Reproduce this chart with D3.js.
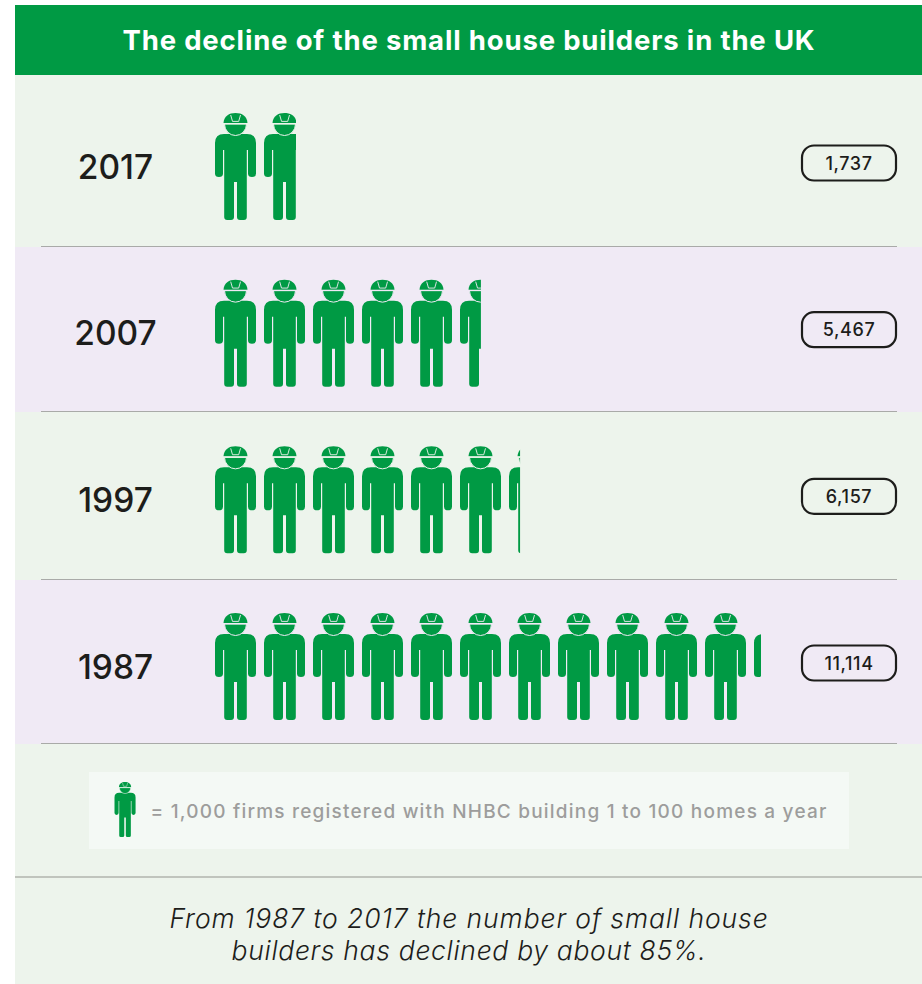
<!DOCTYPE html>
<html>
<head>
<meta charset="utf-8">
<script src="https://cdn.jsdelivr.net/npm/d3@7"></script>
<style>
  html, body { margin: 0; padding: 0; background: #fff; }
  svg { display: block; }
  text { font-family: Inter, "Open Sans", sans-serif; }
</style>
</head>
<body>
<svg id="chart"></svg>
<script>
const years = ["2017", "2007", "1997", "1987"];
const firms = [1737, 5467, 6157, 11114];
// how many figures are actually showing per row
const figuresShown = [1.78, 5.51, 6.27, 11.17];

const title = "The decline of the small house builders in the UK";
const legendText = "= 1,000 firms registered with NHBC building 1 to 100 homes a year";
const footer = ["From 1987 to 2017 the number of small house", "builders has declined by about 85%."];

const green = "#009a44";
const rowColors = ["#edf4ec", "#f0eaf5", "#edf4ec", "#f0eaf5"];
const rowEdges = [75, 247, 412, 580, 744];
const figW = 41, figH = 107;

const width = 922, height = 984;
const svg = d3.select("#chart").attr("width", width).attr("height", height);

const x = d3.scaleLinear().domain([0, 1]).range([215, 264]);
const y = d3.scaleLinear().domain([0, years.length - 1]).range([113, 613]);
const partial = d3.scaleLinear().domain([0, 1]).range([0, figW]);

const body = "M9 21 H32 Q41 21 41 30 V60.5 Q41 64 37 64 Q33 64 33 60.5 V37 H31.8 V104 Q31.8 107 28.8 107 H25 Q22 107 22 104 V69 H19 V104 Q19 107 16 107 H12.2 Q9.2 107 9.2 104 V37 H8 V60.5 Q8 64 4 64 Q0 64 0 60.5 V30 Q0 21 9 21 Z";

// one hard hat worker, in a local 41x107 box
const figure = (g, bg) => {
  g.append("path").attr("d", body).attr("fill", green);
  // head, the light stroke cuts it out of the shoulders
  g.append("path")
    .attr("d", "M9.5 11 A11 11.5 0 0 0 31.5 11 Z")
    .attr("fill", green).attr("stroke", bg).attr("stroke-width", 1);
  // helmet
  g.append("path")
    .attr("d", "M8.5 10 C9 3 14 0 20.5 0 C27 0 32 3 32.5 10 Z")
    .attr("fill", green);
  g.append("path")
    .attr("d", "M8 10.8 H33")
    .attr("stroke", bg).attr("stroke-width", 1);
  g.append("path")
    .attr("d", "M15.7 2 L17.5 8.4 H23.7 L25.5 2")
    .attr("fill", "none").attr("stroke", bg).attr("stroke-width", 0.9);
};

// panel
svg.selectAll("rect.row")
  .data(years)
  .enter()
  .append("rect")
  .attr("class", "row")
  .attr("x", 15)
  .attr("y", (d, i) => rowEdges[i])
  .attr("width", width - 15)
  .attr("height", (d, i) => rowEdges[i + 1] - rowEdges[i])
  .attr("fill", (d, i) => rowColors[i]);

svg.append("rect").attr("x", 15).attr("y", 744).attr("width", width - 15).attr("height", 240).attr("fill", "#edf4ec");
svg.append("rect").attr("x", 15).attr("y", 5).attr("width", width - 15).attr("height", 70).attr("fill", green);

svg.append("text")
  .attr("x", 469).attr("y", 50)
  .attr("text-anchor", "middle")
  .attr("fill", "#fff")
  .attr("font-size", 27.5)
  .attr("font-weight", 700)
  .attr("letter-spacing", 0.83)
  .text(title);

// row separators
svg.selectAll("line.sep")
  .data(rowEdges.slice(1))
  .enter()
  .append("line")
  .attr("class", "sep")
  .attr("x1", 41).attr("x2", 897)
  .attr("y1", d => d - 0.5).attr("y2", d => d - 0.5)
  .attr("stroke", "#a9aaa8").attr("stroke-width", 1);

const rows = svg.selectAll("g.year")
  .data(years)
  .enter()
  .append("g")
  .attr("class", "year");

rows.append("text")
  .attr("x", 115.5)
  .attr("y", (d, i) => y(i) + 65.5)
  .attr("text-anchor", "middle")
  .attr("fill", "#1d1d1b")
  .attr("font-size", 33.5)
  .attr("font-weight", 500)
  .text(d => d);

rows.each(function (d, i) {
  const row = d3.select(this);
  const shown = figuresShown[i];
  d3.range(Math.ceil(shown)).forEach(k => {
    const left = shown - k;
    const g = row.append("g")
      .attr("transform", `translate(${x(k)},${y(i)})`);
    if (left < 1) {
      const id = `cut-${i}`;
      g.append("clipPath").attr("id", id)
        .append("rect")
        .attr("x", -1).attr("y", -1)
        .attr("width", partial(left) + 1)
        .attr("height", figH + 2);
      figure(g.append("g").attr("clip-path", `url(#${id})`), rowColors[i]);
    } else {
      figure(g, rowColors[i]);
    }
  });

  row.append("rect")
    .attr("x", 802).attr("y", y(i) + 32.5)
    .attr("width", 94).attr("height", 35)
    .attr("rx", 12)
    .attr("fill", "none")
    .attr("stroke", "#1d1d1b")
    .attr("stroke-width", 2.2);

  row.append("text")
    .attr("x", 849).attr("y", y(i) + 56.5)
    .attr("text-anchor", "middle")
    .attr("fill", "#1d1d1b")
    .attr("font-size", 18)
    .attr("font-weight", 500)
    .attr("letter-spacing", 0.6)
    .text(d3.format(",")(firms[i]));
});

// legend
svg.append("rect").attr("x", 89).attr("y", 772).attr("width", 760).attr("height", 77).attr("fill", "#f4f9f5");
figure(svg.append("g").attr("transform", "translate(114.5,782) scale(0.514)"), "#f4f9f5");
svg.append("text")
  .attr("x", 150.5).attr("y", 818)
  .attr("fill", "#9d9d9c")
  .attr("font-size", 19)
  .attr("font-weight", 500)
  .attr("letter-spacing", 1.21)
  .text(legendText);

svg.append("line")
  .attr("x1", 15).attr("x2", width)
  .attr("y1", 877).attr("y2", 877)
  .attr("stroke", "#b0b5ae").attr("stroke-width", 1.5);

svg.selectAll("text.foot")
  .data(footer)
  .enter()
  .append("text")
  .attr("class", "foot")
  .attr("x", 469)
  .attr("y", (d, i) => 928 + i * 32)
  .attr("text-anchor", "middle")
  .attr("fill", "#1d1d1b")
  .attr("font-size", 26.5)
  .attr("font-style", "italic")
  .attr("font-weight", 300)
  .attr("letter-spacing", (d, i) => i ? 0.68 : 0.91)
  .text(d => d);
</script>
</body>
</html>
